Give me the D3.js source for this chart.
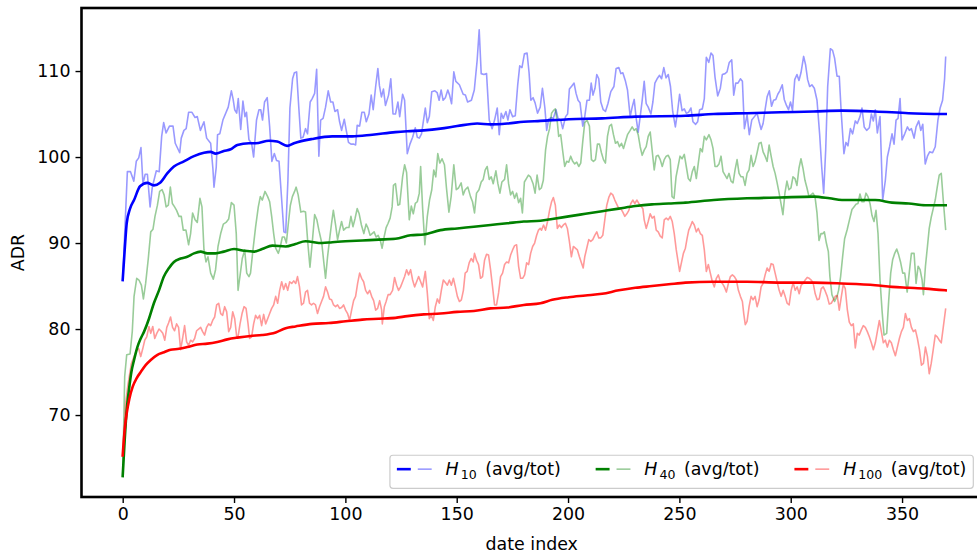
<!DOCTYPE html>
<html>
<head>
<meta charset="utf-8">
<script src="https://cdn.jsdelivr.net/npm/d3@7"></script>
<style>
body { margin: 0; background: #fff; }
svg { display: block; font-family: "DejaVu Sans", sans-serif; }
</style>
</head>
<body>
<div id="chart"></div>
<script>
// [date index, ADR]
const h10Daily = [[0,85.7],[2.1,98.3],[3.5,98.3],[5,97.2],[6.1,99.5],[7.2,99.9],[8.2,101.1],[9.1,96.9],[10.1,98.0],[11.1,98.0],[12.3,94.2],[13.3,96.5],[15.1,98.4],[16.4,98.3],[17.5,102.4],[18.4,104.0],[19.5,102.8],[21,103.6],[22.6,103.6],[23.6,101.6],[25.6,100.5],[26.3,102.2],[27.5,103.1],[28.5,103.3],[29.6,105.2],[31.1,105.2],[32.5,104.6],[33.5,104.7],[34.9,103.1],[36.5,104.1],[37.7,102.2],[39.5,101.6],[40.5,98.7],[41,96.5],[42,98.8],[42.6,102.6],[43.6,102.7],[45,104.3],[47.4,105.8],[48.8,107.7],[49.6,106.7],[50.3,105.5],[51.2,105.1],[51.9,106.8],[53,103.2],[54,106.5],[54.9,104.7],[55.6,105.2],[56.7,102.0],[57.9,101.6],[58.8,100.0],[60.1,104.3],[61.2,105.5],[62,105.5],[62.8,104.3],[63.7,106.4],[64.9,106.9],[66,103.5],[67,99.5],[68.1,100.4],[69.1,99.6],[70.2,99.5],[71.4,95.0],[72.4,91.3],[73.2,91.2],[74.2,97.3],[75.1,105.7],[76.3,109.1],[77.1,109.8],[78.1,109.9],[79.1,105.7],[80,102.2],[81,102.3],[82.1,103.3],[83,102.7],[84.2,106.4],[85.1,106.8],[86.2,107.4],[87.1,110.2],[88.1,100.1],[88.9,104.3],[90,104.5],[91.1,105.8],[92.3,107.7],[93.4,106.4],[94.4,106.4],[95.3,105.3],[96.5,105.5],[97.4,104.1],[98.3,103.1],[99.5,104.4],[100.4,103.1],[101.4,101.7],[102.5,101.5],[103.8,101.5],[104.6,101.4],[105.3,103.7],[106.4,103.6],[107.4,105.2],[108.5,105.2],[109.4,104.1],[110.6,105.0],[111.6,107.2],[112.5,105.5],[113.6,108.2],[114.6,110.3],[115.3,108.3],[116.2,107.0],[117.1,107.9],[118,106.0],[119.4,107.2],[120.4,109.1],[121.4,105.0],[122.5,105.0],[123.6,106.4],[124.4,104.7],[125.7,107.3],[126.6,106.6],[127.8,100.4],[129,101.5],[130.2,102.3],[131.4,103.4],[132.3,102.3],[133.2,102.2],[134.2,102.7],[135.9,105.7],[136.8,104.0],[137.7,104.7],[138.8,107.6],[140.2,107.7],[141.2,107.5],[142.1,106.6],[143,107.8],[143.9,106.6],[144.9,106.9],[146,107.8],[146.8,107.2],[147.7,106.2],[148.7,109.9],[149.6,108.8],[151.2,108.4],[152.9,107.3],[153.9,107.2],[154.9,106.4],[156.6,106.6],[157.9,107.8],[159.2,111.3],[160.1,114.8],[161,109.7],[162.2,109.6],[163.4,109.7],[164.6,104.3],[165.9,103.3],[167,104.3],[168.2,105.7],[169.1,102.6],[170,105.1],[170.9,104.5],[172.1,105.3],[173,104.3],[173.9,105.5],[175.1,104.7],[176.3,104.8],[177.4,108.4],[178.3,110.6],[179.3,110.4],[180.4,112.0],[181.6,112.1],[182.5,109.8],[183.3,106.6],[184.3,106.9],[185.2,106.3],[186.3,105.1],[187.5,105.8],[188.5,108.0],[189.6,105.7],[190.4,103.1],[191.3,104.4],[192.5,104.6],[193.4,104.5],[194.6,105.5],[195.5,104.5],[196.7,104.3],[197.6,103.3],[198.9,104.7],[199.8,105.0],[200.6,107.9],[201.8,108.3],[202.7,108.6],[203.6,107.4],[204.5,106.6],[205.4,106.3],[206.6,103.6],[207.5,104.7],[208.5,106.6],[209.6,106.6],[210.4,108.6],[211.2,107.2],[212.1,108.0],[212.9,109.6],[213.8,109.1],[214.7,106.4],[215.8,105.5],[216.8,105.3],[217.9,106.2],[219.2,107.6],[220.6,108.2],[221.6,110.3],[222.8,110.4],[223.7,109.7],[224.6,109.8],[225.8,108.8],[226.7,107.8],[227.9,104.7],[228.8,105.8],[229.7,106.7],[230.6,104.5],[231.5,102.9],[232.4,104.7],[233.3,106.6],[234.2,108.8],[235.1,106.2],[236,105.8],[237.2,105.0],[238.1,106.4],[239,108.6],[240,109.1],[241.1,109.5],[242,109.1],[243,110.4],[244,109.2],[245,109.6],[246,108.2],[247,105.3],[248.2,103.5],[249.1,105.1],[250.1,107.3],[251.2,105.4],[252.2,105.6],[253.1,105.1],[254.1,105.2],[255.2,105.7],[256.1,104.1],[257.3,103.8],[258.2,104.1],[259.1,105.5],[260.3,105.6],[261.2,106.8],[262.1,111.6],[263.2,111.0],[264.2,112.1],[265.1,111.8],[266,109.3],[267.2,107.1],[268.4,108.0],[269.3,109.6],[270.5,109.7],[271.4,109.9],[272.4,111.0],[273.5,111.3],[274.4,107.2],[275.3,108.6],[276.3,108.6],[277.4,109.1],[278.3,108.8],[279.2,103.3],[280.4,104.9],[281.4,102.6],[282.5,104.3],[283.7,104.7],[284.9,105.1],[285.8,104.1],[286.7,103.2],[287.6,103.9],[288.5,105.5],[289.4,107.0],[290.4,107.7],[291.4,105.9],[292.3,106.6],[293.3,106.7],[294.2,107.3],[295.1,107.7],[296.2,108.4],[297.1,106.7],[298.1,106.0],[299,105.5],[299.9,106.4],[300.8,105.4],[301.8,109.0],[302.8,109.6],[303.7,108.9],[304.6,109.8],[305.8,111.7],[306.7,110.7],[307.6,109.0],[308.5,108.2],[309.5,108.4],[310.6,108.0],[311.8,106.6],[313,102.6],[313.9,98.9],[314.8,95.8],[315.7,100.8],[316.6,108.2],[317.8,112.6],[318.8,112.4],[319.7,111.5],[320.8,109.4],[321.8,109.4],[322.7,105.1],[323.9,100.4],[324.8,101.7],[325.7,101.3],[326.8,103.3],[327.8,102.7],[329,104.2],[329.9,103.9],[331.1,104.7],[332,105.7],[333,103.5],[334.1,103.1],[335.3,103.4],[336.2,105.0],[337.1,104.2],[338,105.5],[338.9,102.8],[340.1,104.7],[341.3,95.0],[342.5,97.3],[343.4,100.0],[344.4,101.2],[345.5,102.7],[346.4,101.5],[347.3,104.3],[348.2,104.5],[349.1,106.8],[350,102.0],[351.2,102.7],[352.4,103.5],[353.3,103.1],[354.2,103.3],[355.4,102.2],[356.3,103.5],[357.5,104.2],[358.4,103.1],[359.3,103.8],[360.4,99.2],[361.4,100.1],[362.4,100.6],[363.7,100.5],[364.9,101.2],[366.1,104.3],[367.1,105.7],[368.2,106.6],[369.1,109.1],[369.6,111.7]];

const h40Daily = [[0,62.9],[0.9,74.5],[1.8,77.0],[3.3,77.1],[4.3,79.7],[5.1,83.8],[6.3,85.9],[7.3,85.7],[8.4,85.1],[9.3,83.5],[10.3,85.3],[11.5,88.2],[12.6,91.3],[13.6,91.6],[14.5,93.1],[15.6,94.4],[16.6,96.0],[17.7,96.2],[18.6,95.6],[19.5,94.2],[20.5,94.4],[21.4,96.5],[22.3,94.6],[23.3,94.2],[24.2,93.8],[25.3,93.1],[26.3,93.1],[27.2,91.5],[28.4,91.5],[29.6,89.8],[30.5,91.1],[31.4,93.5],[32.5,92.7],[33.5,92.4],[34.7,95.2],[35.6,94.2],[36.5,89.2],[37.4,87.8],[38.3,88.4],[39.5,86.5],[40.7,85.8],[41.7,86.9],[42.8,89.6],[44,91.1],[45.2,92.2],[46.4,92.4],[47.6,92.8],[48.8,94.7],[50,94.4],[51,91.1],[51.8,84.5],[52.7,86.2],[53.7,88.2],[54.8,89.2],[55.7,86.5],[56.7,86.1],[57.4,86.5],[58.5,89.2],[59.7,91.9],[60.9,94.2],[61.8,95.4],[62.7,95.0],[63.9,96.0],[65.1,95.4],[66,94.8],[66.9,93.1],[67.8,91.1],[68.7,89.4],[69.9,88.8],[70.8,89.6],[71.7,90.7],[72.6,90.7],[73.5,90.0],[74.4,92.3],[75.3,94.4],[76.2,95.4],[77.2,96.0],[77.9,96.5],[78.8,95.6],[80,93.6],[81.2,93.7],[82.1,93.6],[83.2,89.8],[84.1,87.2],[85.1,90.0],[86.2,93.3],[87.2,92.7],[88.1,91.5],[89.4,90.0],[90.3,87.8],[91.1,85.9],[92,88.4],[92.9,90.4],[93.8,92.3],[94.6,93.8],[95.6,92.1],[96.5,90.4],[97.4,91.5],[98.3,92.5],[99.2,91.5],[100.4,91.8],[101.6,91.8],[102.5,93.1],[103.4,91.9],[104.3,92.8],[105.3,94.0],[106.2,93.4],[107.2,92.1],[108.3,91.1],[109.3,92.2],[110.2,91.7],[111.1,90.9],[112,91.1],[112.9,91.3],[113.8,90.7],[114.7,90.9],[115.6,90.4],[116.5,89.4],[117.4,90.7],[118.3,91.8],[119.2,92.3],[120.1,92.9],[121,94.2],[121.6,96.7],[122.5,96.9],[123.6,94.4],[124.4,94.5],[125.7,97.7],[126.6,99.1],[127.5,98.2],[128.7,92.7],[129.6,94.3],[130.5,93.4],[131.4,94.6],[132.3,94.8],[133.2,95.8],[133.8,98.9],[134.7,94.0],[135.7,89.8],[136.8,93.1],[137.8,95.0],[138.8,96.2],[139.7,98.5],[140.6,97.7],[141.5,100.4],[142.4,99.3],[143.4,99.8],[144.5,99.1],[145.4,96.4],[146.5,93.6],[147.5,95.4],[148.7,99.1],[149.8,96.2],[150.8,96.4],[152,97.0],[152.9,95.6],[153.8,96.2],[155,96.5],[156.2,95.4],[157.1,94.8],[158,93.5],[158.9,95.8],[160,96.2],[161,97.1],[161.9,97.4],[162.8,98.5],[163.7,98.9],[164.6,97.4],[165.5,97.7],[166.4,96.9],[167.6,98.4],[168.5,96.9],[169.4,95.8],[170.3,97.1],[171.5,97.4],[172.4,99.1],[173.3,96.9],[174.2,95.6],[175.1,96.0],[176,95.2],[176.9,95.8],[177.8,94.7],[178.7,95.2],[179.5,93.5],[180.4,97.1],[181.3,97.5],[182.2,97.9],[183.1,97.7],[184.3,96.9],[185.2,95.8],[186.1,97.9],[187.1,96.2],[188,96.4],[188.9,97.3],[189.9,100.8],[190.8,102.4],[191.7,103.3],[192.6,105.1],[193.4,105.4],[194.3,105.6],[195.2,104.0],[195.8,102.4],[196.7,102.6],[197.6,100.7],[198.5,98.9],[199.4,99.5],[200.3,99.4],[201.2,100.1],[202.1,99.5],[203,99.2],[203.9,99.4],[204.8,98.9],[205.7,99.3],[206.6,101.8],[207.5,104.0],[208.5,104.3],[209.6,103.6],[210.5,99.7],[211.4,99.5],[212.3,99.7],[213.2,101.5],[214.1,101.5],[215,100.5],[215.9,99.7],[216.8,99.3],[217.7,102.4],[218.6,103.6],[219.5,103.8],[220.4,102.6],[221.3,101.6],[222.2,101.8],[223.1,101.2],[224,101.6],[224.9,101.0],[225.8,101.8],[226.7,102.6],[227.9,103.1],[228.8,103.5],[229.7,103.1],[230.6,103.3],[231.5,102.6],[232.4,101.2],[233.3,100.2],[234.2,100.8],[235.1,101.2],[236,102.4],[236.9,102.9],[237.8,100.7],[238.7,98.5],[239.6,100.1],[240.5,100.2],[241.4,99.7],[242.3,98.9],[243.2,99.7],[244.1,100.1],[245,100.2],[245.9,99.7],[246.7,95.4],[247.6,95.2],[248.5,97.7],[249.4,98.9],[250.3,100.1],[251.2,99.8],[252.2,100.3],[253.1,98.9],[254,97.5],[254.9,97.2],[255.8,98.3],[256.7,98.9],[257.6,97.5],[258.5,99.3],[259.4,101.0],[260.3,100.6],[261.2,102.4],[262.1,102.0],[263.3,102.6],[264.2,102.0],[265.1,101.0],[266,98.9],[266.9,98.9],[267.8,99.2],[268.7,100.1],[269.6,98.3],[270.5,97.9],[271.4,97.5],[272.3,98.1],[273.2,97.2],[274.1,97.0],[275,98.5],[275.9,99.7],[276.8,98.1],[277.7,97.7],[278.6,97.7],[279.5,96.7],[280.4,98.1],[281.3,98.5],[282.2,100.2],[283.1,98.9],[284,99.5],[284.9,100.5],[285.8,101.6],[286.7,101.7],[287.6,100.6],[288.5,100.1],[289.4,99.5],[290.3,101.4],[291.2,100.1],[292.1,98.9],[293,98.1],[293.9,97.0],[294.8,95.8],[295.7,94.5],[296.5,93.3],[297.4,95.8],[298.3,97.2],[299.2,96.2],[300.1,96.4],[301,97.7],[301.9,97.5],[302.8,96.7],[303.7,98.7],[304.6,99.8],[305.5,98.7],[306.4,97.3],[307.3,96.4],[308.2,95.4],[309.1,95.6],[310,95.8],[310.9,95.4],[311.8,93.5],[312.7,90.3],[313.6,91.1],[314.5,91.1],[315.1,91.3],[316,90.0],[316.9,89.0],[317.6,86.1],[318.5,84.0],[319.7,83.2],[320.8,83.8],[321.5,84.5],[322.4,86.1],[323.3,88.4],[324.2,90.5],[325.4,91.6],[326.3,92.6],[327.5,93.9],[328.4,94.2],[329.3,94.5],[330.2,94.6],[331.1,95.7],[332,94.8],[332.9,94.8],[333.8,95.8],[334.7,95.4],[335.6,94.6],[336.5,93.2],[337.4,92.5],[338.3,93.8],[339.2,91.1],[340.1,85.7],[341,82.2],[341.9,79.3],[343.1,79.5],[344,83.3],[344.9,86.5],[345.8,88.1],[346.7,88.8],[347.6,89.3],[348.5,88.6],[349.4,87.7],[350.3,86.5],[351.2,86.5],[352.3,84.3],[353.3,86.7],[354.2,88.8],[355.4,88.8],[356.3,85.3],[357.2,87.3],[358.1,86.9],[359,85.7],[359.6,84.0],[360.5,87.3],[361.4,89.6],[362.2,91.7],[363.1,93.0],[364,94.0],[364.9,95.0],[365.8,96.5],[366.7,97.9],[367.6,98.1],[368.5,95.0],[369.6,91.5]];

const h100Daily = [[0,65.3],[1.3,71.4],[2.4,73.6],[3.9,76.0],[5.1,76.8],[6.3,77.6],[7.2,77.7],[8.1,76.8],[9,77.7],[9.9,78.7],[10.8,79.1],[11.8,80.3],[12.6,79.5],[13.5,80.3],[14.4,78.9],[15.3,79.5],[16.3,80.0],[17.1,79.8],[18,79.5],[18.9,78.7],[19.8,80.2],[20.6,80.7],[21.5,81.4],[22.4,80.2],[23.3,79.8],[24.2,80.6],[25.1,80.2],[26,77.6],[26.9,78.9],[27.8,80.4],[28.7,78.5],[29.6,78.1],[30.5,78.7],[31.4,78.5],[32.3,78.9],[33.2,79.8],[34.1,80.0],[35,80.2],[35.9,79.7],[36.8,79.3],[37.7,80.2],[38.6,80.6],[39.5,80.4],[40.4,81.0],[41.3,81.4],[42.2,82.8],[43.1,83.0],[44,81.8],[44.9,81.6],[45.8,82.6],[46.7,82.0],[47.6,79.7],[48.5,80.2],[49.4,82.0],[50.3,81.2],[51.2,79.1],[51.8,79.1],[52.7,80.6],[53.6,81.8],[54.5,82.6],[55.4,82.4],[56.3,80.6],[57,78.9],[57.9,79.1],[58.8,80.6],[59.7,81.6],[60.6,81.2],[61.5,81.6],[62.4,80.4],[63.3,81.7],[64.2,80.6],[65.1,81.2],[66,81.8],[66.9,82.4],[67.8,82.8],[68.7,83.8],[69.6,83.0],[70.5,84.5],[71.4,85.5],[72.3,84.6],[73.2,85.3],[74.1,84.5],[75,85.5],[75.9,85.3],[76.8,85.6],[77.7,85.3],[78.5,86.1],[79.4,84.9],[80.3,82.8],[81.2,83.0],[82.1,84.3],[83,84.5],[83.9,83.0],[84.8,82.8],[85.7,83.0],[86.6,82.8],[87.5,81.8],[88.4,82.6],[89.3,83.2],[90.2,83.8],[91.1,84.9],[92,84.3],[92.9,83.5],[93.8,83.4],[94.7,82.8],[95.6,82.6],[96.5,82.8],[97.4,82.4],[98.3,82.5],[99.2,82.8],[100.1,82.2],[101,81.8],[101.9,81.0],[102.8,82.2],[103.7,83.3],[104.6,83.8],[105.5,85.3],[106.4,86.5],[107.3,85.9],[108.2,85.5],[109.1,84.5],[110,84.1],[110.9,84.5],[111.8,83.8],[112.7,83.3],[113.6,82.2],[114.5,82.4],[115.4,83.3],[116.3,82.2],[116.6,80.6],[117.5,82.6],[118.3,83.2],[119.2,84.0],[120.1,84.0],[121.2,84.5],[122.1,86.0],[123,85.1],[123.9,84.5],[124.8,84.9],[125.7,85.5],[126.6,86.1],[127.5,86.9],[128.4,86.3],[129.3,86.9],[130.2,85.7],[131.1,84.9],[132,85.5],[132.9,86.1],[133.8,85.5],[134.7,84.9],[135.9,86.7],[136.8,84.2],[137.7,81.2],[138.6,81.6],[139.5,81.0],[140.4,82.6],[141.3,83.5],[142.2,83.0],[143.1,84.5],[144,85.7],[144.9,85.4],[145.8,85.1],[146.7,85.7],[147.6,85.1],[148.5,85.9],[149.4,84.9],[150.3,83.8],[151.2,83.2],[152.1,83.4],[153,84.5],[153.8,86.5],[154.7,86.7],[155.6,87.7],[156.5,88.2],[157.4,87.8],[158,88.8],[158.9,88.0],[159.8,87.5],[160.7,85.9],[161.6,86.1],[162.5,88.0],[163.4,88.7],[164.3,88.6],[165.2,86.9],[166.1,84.9],[167,82.8],[167.9,82.8],[168.8,84.2],[169.7,86.1],[170.6,86.5],[171.5,87.5],[172.4,87.8],[173.3,87.7],[174.2,88.6],[175.1,89.2],[176,89.7],[176.9,89.8],[177.8,87.3],[178.7,85.9],[179.6,85.9],[180.5,86.3],[181.4,87.7],[182.3,87.5],[183.2,88.8],[184.1,89.6],[185,90.0],[185.9,90.9],[186.7,91.5],[187.5,91.7],[188.1,91.5],[189,92.1],[189.9,91.5],[190.8,92.5],[191.7,93.8],[192.6,94.8],[193.4,95.3],[194.3,94.4],[195.2,91.7],[196.1,92.1],[197,91.8],[197.9,92.1],[198.8,92.3],[199.7,91.7],[200.6,90.2],[201.5,88.4],[202.4,89.6],[203.3,89.4],[204.2,89.2],[205.1,88.4],[206,87.7],[206.8,87.1],[207.5,88.4],[208.4,89.4],[209.3,90.4],[210.2,90.2],[211.1,90.4],[212,90.9],[212.9,91.3],[213.8,90.6],[214.7,90.6],[215.6,90.9],[216.5,92.7],[217.4,94.4],[218.3,95.3],[219.2,95.8],[220.1,95.6],[221,95.0],[221.9,94.5],[222.8,94.0],[223.7,94.0],[224.6,93.6],[225.5,93.1],[226.4,93.4],[227.3,93.8],[228.2,94.6],[229.1,95.0],[230,94.6],[230.9,95.0],[231.8,94.6],[232.7,94.3],[233.6,94.0],[234.2,92.7],[235.1,91.7],[236,92.5],[236.9,93.4],[237.8,92.9],[238.7,93.1],[239.6,91.5],[240.5,91.3],[241.4,90.8],[242.3,90.6],[243.2,92.7],[244.1,92.9],[245,92.7],[245.9,93.1],[246.8,92.5],[247.7,91.1],[248.6,89.2],[249.5,87.7],[250.1,86.7],[250.9,87.7],[251.8,88.8],[252.7,89.4],[253.5,90.6],[254.2,91.5],[254.9,91.9],[255.8,92.5],[256.7,92.1],[257.6,91.3],[258.5,91.7],[259.4,91.1],[260.3,90.9],[261.2,89.2],[262.1,86.7],[263,87.5],[263.9,86.5],[264.8,85.5],[265.7,84.9],[266.6,85.9],[267.5,86.3],[268.4,85.5],[269.3,85.3],[270.2,84.9],[271.1,84.3],[272,85.3],[272.9,86.1],[273.8,86.3],[274.7,86.1],[275.6,85.7],[276.5,84.5],[277.4,83.8],[278.3,83.2],[278.9,81.8],[279.6,80.5],[280.4,80.9],[281.3,82.6],[282.2,83.8],[283.1,83.4],[284,83.8],[284.9,82.6],[285.8,83.4],[286.7,84.9],[287.6,85.3],[288.5,86.3],[289.4,87.1],[290.3,86.7],[291.2,87.6],[292.1,87.5],[293,86.5],[293.9,85.5],[294.8,84.5],[295.7,83.8],[296.6,84.5],[297.5,83.8],[298.4,83.0],[299.3,82.8],[300.2,84.5],[301.1,85.4],[302,84.5],[302.9,84.9],[303.8,84.1],[304.7,85.1],[305.6,85.3],[306.5,85.7],[307.4,86.0],[308.3,85.9],[309.2,85.7],[310.1,85.3],[311,84.1],[311.9,83.4],[312.8,83.5],[313.7,84.7],[314.6,84.9],[315.5,84.4],[316.4,83.8],[317.3,82.9],[318.2,83.0],[319.1,83.4],[320,83.8],[320.9,83.9],[321.8,82.2],[322.7,83.7],[323.6,85.2],[324.5,84.7],[325.4,82.3],[326.3,80.8],[327.2,80.4],[328.1,80.6],[329,77.8],[329.9,79.5],[330.8,79.3],[331.7,79.9],[332.6,80.4],[333.5,80.2],[334.4,79.7],[335.3,79.1],[336.2,78.4],[337.1,77.6],[338,78.4],[338.9,79.7],[339.8,81.0],[340.7,79.7],[341.6,78.4],[342.5,78.7],[343.4,77.9],[344.3,78.7],[345.2,78.4],[346.1,77.6],[347,76.9],[347.9,77.9],[348.8,78.9],[349.7,79.7],[350.6,80.2],[351.5,81.8],[352.4,81.0],[353.3,81.2],[354.2,80.2],[355.1,79.7],[356,79.9],[356.9,78.9],[357.8,77.6],[358.7,75.8],[359.6,76.0],[360.5,77.9],[361.4,76.8],[362.2,74.8],[363.1,76.0],[364,77.6],[364.9,79.3],[365.8,79.1],[366.7,78.7],[367.6,78.4],[368.5,80.2],[369.6,82.4]];

const h10Avg = [[0,85.7],[0.9,89.2],[1.8,92.3],[3.3,94.0],[5.1,95.0],[7.8,96.6],[11,97.0],[14,96.7],[16.8,97.0],[20,98.1],[23,98.9],[27.5,99.5],[32,100.1],[36.5,100.5],[39.5,100.6],[41.7,100.4],[45.4,100.7],[48.5,100.9],[51.5,101.4],[56.7,101.6],[59.7,101.6],[65.7,101.9],[69.4,101.8],[73.9,101.3],[76.9,101.6],[85.1,102.1],[94.1,102.4],[103.1,102.4],[112.1,102.6],[122.5,102.9],[127.8,103.0],[135.2,103.1],[142.7,103.3],[150.2,103.6],[159.2,103.9],[165.2,103.8],[172.7,103.9],[180.1,104.1],[187.6,104.2],[200.3,104.4],[215.3,104.5],[230.2,104.7],[252.7,104.8],[265.4,105.0],[280.4,105.1],[295.3,105.2],[310.3,105.3],[323,105.4],[338,105.3],[352.9,105.1],[369.6,105.0]];

const h40Avg = [[0,62.9],[0.9,67.1],[1.8,70.6],[2.8,72.9],[3.9,75.0],[5.1,76.4],[6.6,77.9],[8.1,78.9],[9.6,79.7],[11.8,81.2],[14,83.0],[16.3,84.5],[18.5,86.1],[20.8,87.1],[23,87.8],[26,88.2],[29,88.4],[32,88.8],[35,89.0],[38,88.8],[41.7,88.8],[45.4,89.0],[50,89.3],[54.5,89.1],[58.9,89.0],[62.6,89.3],[67.2,89.7],[73.2,89.6],[77.6,89.9],[82.1,90.2],[89.6,90.0],[94.1,90.1],[100,90.2],[107.6,90.3],[115,90.4],[122.5,90.5],[129.3,90.9],[135.2,91.0],[142.7,91.5],[150.2,91.7],[157.7,91.9],[165.2,92.1],[172.7,92.3],[180.1,92.5],[187.6,92.6],[192.9,92.8],[200.3,93.1],[207.8,93.4],[215.3,93.7],[222.8,94.0],[230.2,94.3],[237.7,94.5],[245.2,94.6],[252.7,94.7],[265.4,95.0],[280.4,95.2],[295.3,95.3],[310.3,95.4],[317.5,95.2],[323,95.0],[338,95.0],[345.5,94.7],[353,94.6],[360.4,94.4],[369.6,94.4]];

const h100Avg = [[0,65.3],[0.9,68.3],[1.8,70.2],[3,71.9],[4.5,73.3],[6.3,74.3],[8.1,75.0],[10.3,75.8],[12.6,76.4],[15.6,77.0],[18.6,77.3],[21.5,77.6],[25.3,77.7],[29,77.9],[33.5,78.2],[38,78.3],[42.5,78.5],[47,78.8],[51.5,79.0],[57.4,79.2],[62.6,79.3],[68.7,79.6],[73.2,80.1],[77.6,80.3],[85.1,80.6],[92.6,80.7],[100.1,80.9],[107.6,81.1],[115,81.2],[122.5,81.3],[127.8,81.5],[135.2,81.7],[142.7,81.8],[150.2,82.0],[157.7,82.1],[165.2,82.4],[172.7,82.5],[180.1,82.8],[187.6,83.0],[192.9,83.4],[200.3,83.7],[207.8,83.9],[215.3,84.1],[222.8,84.5],[230.2,84.8],[237.7,85.0],[245.2,85.2],[252.7,85.4],[265.4,85.5],[280.4,85.5],[295.3,85.4],[310.3,85.4],[323,85.3],[338,85.1],[345.5,84.9],[353,84.8],[360.4,84.7],[369.6,84.5]];

const horizons = ["10", "40", "100"];
const colors = ["#0000ff", "#008000", "#ff0000"];
const xTicks = [0, 50, 100, 150, 200, 250, 300, 350];
const yTicks = [70, 80, 90, 100, 110];

const series = [
    { name: horizons[0], color: colors[0], daily: h10Daily, avg: h10Avg },
    { name: horizons[1], color: colors[1], daily: h40Daily, avg: h40Avg },
    { name: horizons[2], color: colors[2], daily: h100Daily, avg: h100Avg }
];

const width = 977, height = 559;
const fs = 17.4;
// the right spine falls just outside the picture, as in the reference
const plot = { left: 81.5, right: 982, top: 8, bottom: 497 };

const svg = d3.select("#chart").append("svg")
    .attr("width", width)
    .attr("height", height);

const x = d3.scaleLinear().domain([-18.5, 385.9]).range([plot.left, plot.right]);
const y = d3.scaleLinear().domain([60.47, 117.33]).range([plot.bottom, plot.top]);

svg.append("clipPath").attr("id", "clip")
    .append("rect")
    .attr("x", plot.left).attr("y", plot.top)
    .attr("width", plot.right - plot.left).attr("height", plot.bottom - plot.top);

const line = d3.line().x(d => x(d[0])).y(d => y(d[1]));
const smooth = d3.line().x(d => x(d[0])).y(d => y(d[1])).curve(d3.curveMonotoneX);

const marks = svg.append("g").attr("clip-path", "url(#clip)");

series.forEach(s => {
    marks.append("path")
        .datum(s.daily)
        .attr("d", line)
        .style("fill", "none")
        .style("stroke", s.color)
        .style("stroke-opacity", 0.4)
        .style("stroke-width", 1.6)
        .style("stroke-linejoin", "round");
});
series.forEach(s => {
    marks.append("path")
        .datum(s.avg)
        .attr("d", smooth)
        .style("fill", "none")
        .style("stroke", s.color)
        .style("stroke-width", 2.6)
        .style("stroke-linecap", "square");
});

// axes
const xAxis = svg.append("g")
    .attr("transform", `translate(0,${plot.bottom})`)
    .call(d3.axisBottom(x).tickValues(xTicks).tickSize(6).tickPadding(5));
const yAxis = svg.append("g")
    .attr("transform", `translate(${plot.left},0)`)
    .call(d3.axisLeft(y).tickValues(yTicks).tickSize(6).tickPadding(5));

[xAxis, yAxis].forEach(a => {
    a.select(".domain").remove();
    a.selectAll(".tick line").style("stroke", "#000").style("stroke-width", 1.4);
    a.selectAll(".tick text")
        .style("font-family", "DejaVu Sans")
        .style("font-size", fs + "px")
        .style("fill", "#000");
});

svg.append("rect")
    .attr("x", plot.left).attr("y", plot.top)
    .attr("width", plot.right - plot.left).attr("height", plot.bottom - plot.top)
    .style("fill", "none")
    .style("stroke", "#000")
    .style("stroke-width", 2.6);

svg.append("text")
    .attr("x", (plot.left + plot.right) / 2)
    .attr("y", 550)
    .attr("text-anchor", "middle")
    .style("font-size", fs + "px")
    .text("date index");

svg.append("text")
    .attr("transform", `translate(24,${(plot.top + plot.bottom) / 2}) rotate(-90)`)
    .attr("text-anchor", "middle")
    .style("font-size", fs + "px")
    .text("ADR");

// legend, laid out like matplotlib: handle, pad, label, column spacing
const legend = svg.append("g");
const box = legend.append("rect")
    .attr("rx", 3)
    .style("fill", "#fff")
    .style("fill-opacity", 0.8)
    .style("stroke", "#cccccc")
    .style("stroke-width", 1.2);

const handleLen = 2 * fs, handlePad = 0.8 * fs, colSpace = 2 * fs, border = 0.4 * fs;
const legRight = plot.right - 0.5 * fs, legBottom = plot.bottom - 0.5 * fs;
const rowY = legBottom - border - 0.7 * fs;

const entries = series.map(s => {
    const g = legend.append("g");
    const half = (handleLen - border) / 2;
    g.append("line")
        .attr("x1", 0).attr("x2", half).attr("y1", 0).attr("y2", 0)
        .style("stroke", s.color).style("stroke-width", 2.6);
    g.append("line")
        .attr("x1", half + border).attr("x2", handleLen).attr("y1", 0).attr("y2", 0)
        .style("stroke", s.color).style("stroke-opacity", 0.4).style("stroke-width", 1.6);
    const t = g.append("text")
        .attr("x", handleLen + handlePad).attr("y", 0.36 * fs)
        .style("font-size", fs + "px");
    t.append("tspan").style("font-style", "italic").text("H");
    t.append("tspan").attr("dx", 2).attr("dy", 0.2 * fs).style("font-size", (0.72 * fs) + "px").text(s.name);
    t.append("tspan").attr("dx", 3).attr("dy", -0.2 * fs).text(" (avg/tot)");
    return { g, w: handleLen + handlePad + t.node().getComputedTextLength() + 5 };
});

const totalW = d3.sum(entries, e => e.w) + colSpace * (entries.length - 1);
let cx = legRight - border - totalW;
entries.forEach(e => {
    e.g.attr("transform", `translate(${cx},${rowY})`);
    cx += e.w + colSpace;
});
const boxH = 2 * border + 1.1 * fs;
box.attr("x", legRight - totalW - 2 * border)
    .attr("y", legBottom - boxH)
    .attr("width", totalW + 2 * border)
    .attr("height", boxH);
</script>
</body>
</html>
